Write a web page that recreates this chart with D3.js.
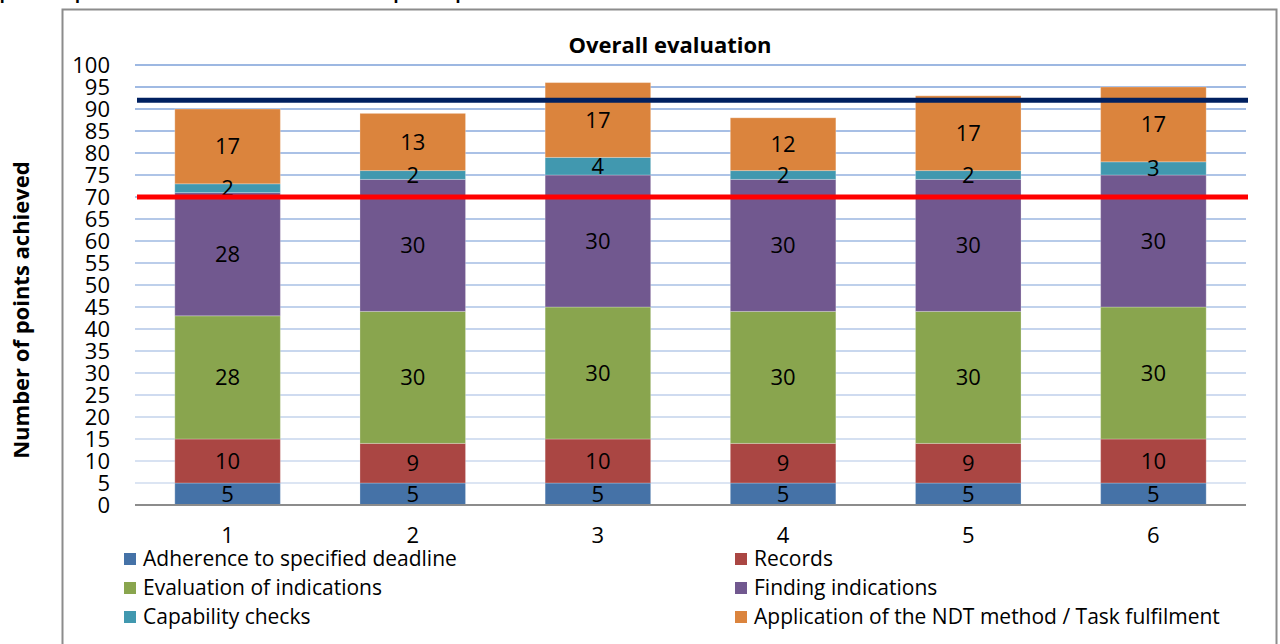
<!DOCTYPE html>
<html><head><meta charset="utf-8">
<script src="https://cdn.jsdelivr.net/npm/d3@7"></script>
<style>body{margin:0;background:#fff;overflow:hidden}svg{display:block;font-family:"Open Sans",sans-serif}</style>
</head><body>
<svg id="c" width="1280" height="644"></svg>
<script>
const categories = ["1","2","3","4","5","6"];
const seriesNames = ["Adherence to specified deadline","Records","Evaluation of indications","Finding indications","Capability checks","Application of the NDT method / Task fulfilment"];
const adherence = [5,5,5,5,5,5];
const records = [10,9,10,9,9,10];
const evaluation = [28,30,30,30,30,30];
const finding = [28,30,30,30,30,30];
const capability = [2,2,4,2,2,3];
const application = [17,13,17,12,17,17];
const colors = ["#4572a7","#aa4643","#89a54e","#71588f","#4198af","#db843d"];
const yTicks = [0,5,10,15,20,25,30,35,40,45,50,55,60,65,70,75,80,85,90,95,100];
const refLines = [{v:92,c:"#002060"},{v:70,c:"#ff0000"}];

const seriesVals = [adherence,records,evaluation,finding,capability,application];
const FONT = "'Open Sans',sans-serif";
const svg = d3.select("#c");

// page title (cut off at top)
svg.append("text").attr("x",-32).attr("y",-1).attr("font-weight","bold").attr("font-size",20)
  .attr("font-family","Lato,sans-serif")
  .attr("fill","#000").text("Graphical representation of results of individual partial points");
// outer frame
svg.append("rect").attr("x",62.5).attr("y",9.5).attr("width",1214).attr("height",700)
  .attr("fill","none").attr("stroke","#8c8c8c").attr("stroke-width",2);

const x = d3.scaleBand().domain(categories).range([135,1246]).paddingInner(0.43).paddingOuter(0.215);
const y = d3.scaleLinear().domain([0,100]).range([505,65]);

// gridlines
const gcol = d3.scaleLinear().domain([0,100]).range(["#dfe7f4","#9db8e2"]);
svg.append("g").selectAll("line").data(yTicks.filter(d=>d>0)).join("line")
  .attr("x1",135).attr("x2",1246).attr("y1",d=>y(d)).attr("y2",d=>y(d))
  .attr("stroke",d=>gcol(d)).attr("stroke-width",2);

// y tick labels via axis
const yAxis = svg.append("g").attr("transform","translate(135,0)")
  .call(d3.axisLeft(y).tickValues(yTicks).tickSize(0).tickPadding(25));
yAxis.select(".domain").remove();
yAxis.selectAll("text").attr("font-size",22).attr("font-family",FONT).attr("fill","#000").attr("dy","0.36em");

// stacked data
const rows = categories.map((c,i)=>{const o={cat:c}; seriesNames.forEach((s,j)=>o[s]=seriesVals[j][i]); return o;});
const stack = d3.stack().keys(seriesNames)(rows);
const g = svg.append("g");
stack.forEach((layer,j)=>{
  g.append("g").selectAll("rect").data(layer).join("rect")
    .attr("x",d=>x(d.data.cat)).attr("width",x.bandwidth())
    .attr("y",d=>y(d[1])).attr("height",d=>y(d[0])-y(d[1]))
    .attr("fill",colors[j]).attr("stroke","rgba(255,255,255,0.25)").attr("stroke-width",1);
});
stack.forEach((layer,j)=>{
  g.append("g").selectAll("text").data(layer).join("text")
    .attr("x",d=>x(d.data.cat)+x.bandwidth()/2)
    .attr("y",d=>(y(d[0])+y(d[1]))/2).attr("dy","0.36em")
    .attr("text-anchor","middle").attr("font-size",22).attr("fill","#000")
    .text(d=>d[1]-d[0]);
});

// x axis
svg.append("line").attr("x1",135).attr("x2",1246).attr("y1",505).attr("y2",505).attr("stroke","#8c8c8c").attr("stroke-width",2);
const xAxis = svg.append("g").attr("transform","translate(0,505)").call(d3.axisBottom(x).tickSize(0).tickPadding(22));
xAxis.select(".domain").remove();
xAxis.selectAll("text").attr("font-size",22).attr("font-family",FONT).attr("fill","#000");

// reference lines
svg.append("g").selectAll("line").data(refLines).join("line")
  .attr("x1",137).attr("x2",1248).attr("y1",d=>y(d.v)).attr("y2",d=>y(d.v))
  .attr("stroke",d=>d.c).attr("stroke-width",5);

// titles
svg.append("text").attr("x",670).attr("y",53).attr("text-anchor","middle").attr("font-weight","bold")
  .attr("font-size",22).text("Overall evaluation");
svg.append("text").attr("transform","translate(29,310) rotate(-90)").attr("text-anchor","middle")
  .attr("font-weight","bold").attr("font-size",22).text("Number of points achieved");

// legend
const lg = svg.append("g").selectAll("g").data(seriesNames).join("g")
  .attr("transform",(d,i)=>`translate(${i%2===0?124:735},${559+Math.floor(i/2)*29})`);
lg.append("rect").attr("x",0).attr("y",-6).attr("width",12).attr("height",12).attr("fill",(d,i)=>colors[i]);
lg.append("text").attr("x",19).attr("y",0).attr("dy","0.35em").attr("font-size",21).attr("fill","#000").text(d=>d);
</script>
</body></html>
